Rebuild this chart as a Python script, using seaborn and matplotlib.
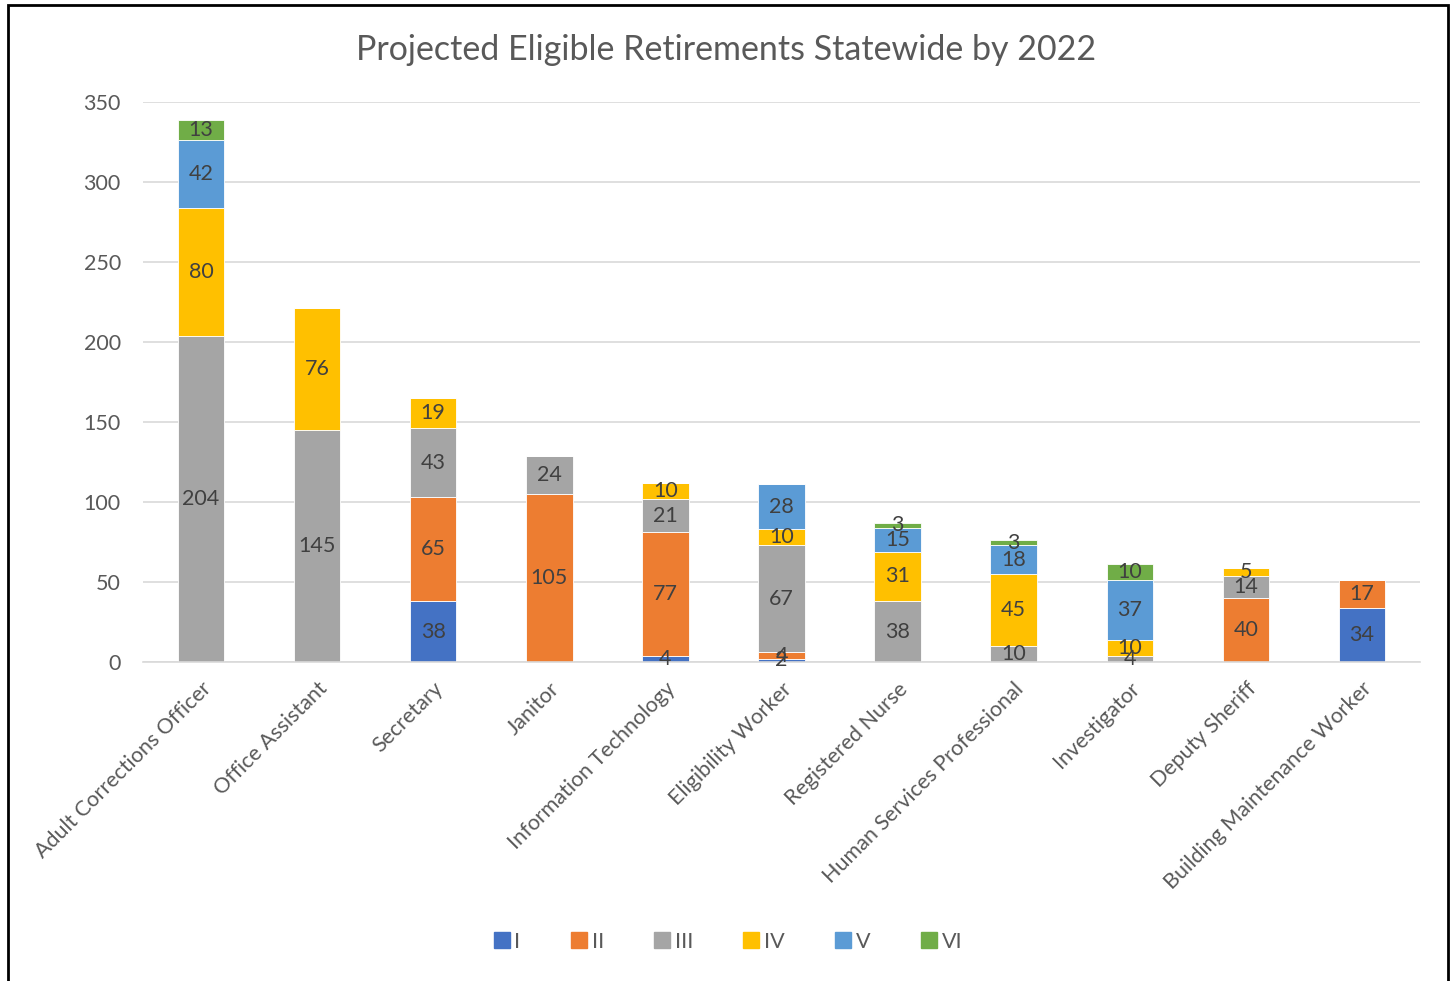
import matplotlib
matplotlib.use("Agg")
import matplotlib.pyplot as plt
import seaborn as sns
import numpy as np
import pandas as pd
from matplotlib.lines import Line2D
from matplotlib.patches import Rectangle

categories = ["Adult Corrections Officer", "Office Assistant", "Secretary", "Janitor",
              "Information Technology", "Eligibility Worker", "Registered Nurse",
              "Human Services Professional", "Investigator", "Deputy Sheriff",
              "Building Maintenance Worker"]
series_names = ["I", "II", "III", "IV", "V", "VI"]
s_I   = [0, 0, 38, 0, 4, 2, 0, 0, 0, 0, 34]
s_II  = [0, 0, 65, 105, 77, 4, 0, 0, 0, 40, 17]
s_III = [204, 145, 43, 24, 21, 67, 38, 10, 4, 14, 0]
s_IV  = [80, 76, 19, 0, 10, 10, 31, 45, 10, 5, 0]
s_V   = [42, 0, 0, 0, 0, 28, 15, 18, 37, 0, 0]
s_VI  = [13, 0, 0, 0, 0, 0, 3, 3, 10, 0, 0]
series_values = [s_I, s_II, s_III, s_IV, s_V, s_VI]
colors = ["#4472C4", "#ED7D31", "#A5A5A5", "#FFC000", "#5B9BD5", "#70AD47"]
y_ticks = [0, 50, 100, 150, 200, 250, 300, 350]

sns.set_theme(style="white")
plt.rcParams["font.family"] = ["Lato", "DejaVu Sans"]

fig = plt.figure(figsize=(14.53, 9.81), dpi=100)
ax = fig.add_axes([143/1453, 1-662/981, (1420-143)/1453, (662-102)/981])

bottom = np.zeros(len(categories))
for name, vals, col in zip(series_names, series_values, colors):
    df = pd.DataFrame({"cat": categories, "val": vals})
    sns.barplot(data=df, x="cat", y="val", order=categories, color=col,
                width=0.4, bottom=bottom.copy(), ax=ax, saturation=1,
                edgecolor="white", linewidth=0.6)
    cont = ax.containers[-1]
    labels = [str(v) if v > 0 else "" for v in vals]
    ax.bar_label(cont, labels=labels, label_type="center", fontsize=15.5,
                 color="#404040")
    bottom += np.array(vals)

ax.set_xlim(-0.5, len(categories) - 0.5)
ax.set_ylim(0, 350)
ax.set_yticks(y_ticks)
ax.set_yticklabels([str(t) for t in y_ticks], fontsize=15.5, color="#595959")
ax.set_xlabel("")
ax.set_ylabel("")
ax.yaxis.grid(True, color="#D9D9D9", linewidth=1.2)
ax.set_axisbelow(True)
ax.tick_params(axis="y", length=0, pad=16)
ax.tick_params(axis="x", length=0, pad=12)
plt.setp(ax.get_xticklabels(), rotation=45, ha="right", rotation_mode="anchor",
         fontsize=15.5, color="#595959")
for s in ["left", "right", "top"]:
    ax.spines[s].set_visible(False)
ax.spines["bottom"].set_color("#D9D9D9")
ax.spines["bottom"].set_linewidth(1.2)

fig.text(0.5, 1-50/981, "Projected Eligible Retirements Statewide by 2022",
         ha="center", va="center", fontsize=24.5, color="#595959")

handles = [Line2D([0], [0], marker="s", linestyle="", markersize=11,
                  markerfacecolor=c, markeredgecolor=c) for c in colors]
fig.legend(handles, series_names, loc="center", bbox_to_anchor=(0.5, 1-942/981),
           ncol=6, frameon=False, fontsize=15.5, handletextpad=0.1,
           columnspacing=2.2, labelcolor="#595959", handlelength=1.0)

fig.patches.append(Rectangle((8/1453, -0.01), (1448-8)/1453, 1.01 - 5/981,
                             transform=fig.transFigure, fill=False,
                             edgecolor="black", linewidth=2))

fig.savefig("out.png", dpi=100)
